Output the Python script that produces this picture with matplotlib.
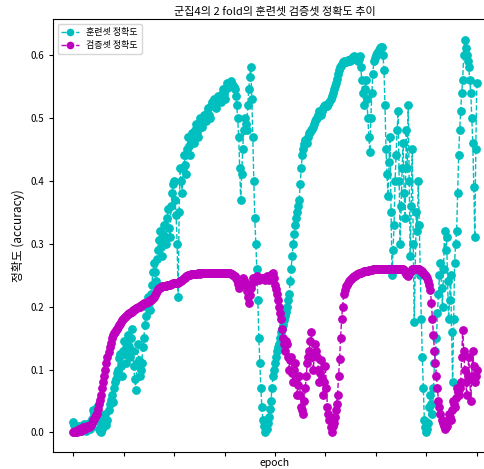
import numpy as np
import matplotlib
matplotlib.use("Agg")
import matplotlib.pyplot as plt

plt.rcParams['font.family'] = ['Noto Sans CJK KR', 'DejaVu Sans']
plt.rcParams['axes.unicode_minus'] = False

# epoch (every 2nd epoch)
epochs = list(range(0, 801, 2))

# 훈련셋 정확도
train_acc = [
    0.016, 0.012, 0.008, 0.004, 0.003, 0.007, 0.010, 0.004, 0.002, 0.009,
    0.006, 0.014, 0.012, 0.003, 0.005, 0.011, 0.015, 0.006, 0.008, 0.022,
    0.035, 0.030, 0.025, 0.038, 0.040, 0.018, 0.005, 0.002, 0.000, 0.006,
    0.010, 0.022, 0.030, 0.012, 0.020, 0.035, 0.045, 0.052, 0.060, 0.048,
    0.070, 0.080, 0.085, 0.095, 0.100, 0.118, 0.125, 0.105, 0.090, 0.130,
    0.145, 0.125, 0.110, 0.140, 0.155, 0.135, 0.120, 0.150, 0.165, 0.130,
    0.105, 0.085, 0.068, 0.110, 0.140, 0.115, 0.090, 0.100, 0.110, 0.135,
    0.150, 0.170, 0.185, 0.200, 0.215, 0.205, 0.195, 0.220, 0.235, 0.255,
    0.270, 0.255, 0.240, 0.275, 0.290, 0.305, 0.320, 0.295, 0.280, 0.315,
    0.330, 0.310, 0.300, 0.340, 0.355, 0.325, 0.310, 0.360, 0.380, 0.395,
    0.400, 0.370, 0.345, 0.300, 0.216, 0.350, 0.420, 0.400, 0.380, 0.420,
    0.440, 0.425, 0.410, 0.450, 0.470, 0.455, 0.440, 0.465, 0.475, 0.470,
    0.460, 0.480, 0.490, 0.478, 0.470, 0.490, 0.500, 0.492, 0.485, 0.498,
    0.505, 0.500, 0.495, 0.508, 0.515, 0.505, 0.500, 0.518, 0.525, 0.520,
    0.530, 0.522, 0.515, 0.528, 0.535, 0.530, 0.525, 0.538, 0.545, 0.538,
    0.530, 0.545, 0.555, 0.550, 0.548, 0.555, 0.558, 0.554, 0.550, 0.548,
    0.545, 0.535, 0.520, 0.500, 0.470, 0.420, 0.370, 0.410, 0.450, 0.480,
    0.500, 0.490, 0.480, 0.520, 0.545, 0.565, 0.580, 0.530, 0.470, 0.400,
    0.340, 0.300, 0.260, 0.210, 0.150, 0.110, 0.070, 0.040, 0.020, 0.010,
    0.000, 0.008, 0.005, 0.015, 0.025, 0.038, 0.050, 0.070, 0.090, 0.100,
    0.110, 0.120, 0.130, 0.135, 0.140, 0.150, 0.160, 0.165, 0.170, 0.178,
    0.185, 0.192, 0.200, 0.210, 0.220, 0.240, 0.260, 0.280, 0.300, 0.315,
    0.330, 0.340, 0.350, 0.360, 0.370, 0.395, 0.420, 0.440, 0.450, 0.458,
    0.465, 0.462, 0.460, 0.470, 0.475, 0.478, 0.480, 0.482, 0.485, 0.490,
    0.495, 0.498, 0.500, 0.505, 0.510, 0.508, 0.505, 0.510, 0.515, 0.518,
    0.520, 0.519, 0.518, 0.522, 0.525, 0.530, 0.535, 0.540, 0.545, 0.550,
    0.555, 0.562, 0.570, 0.575, 0.580, 0.582, 0.585, 0.588, 0.590, 0.589,
    0.588, 0.590, 0.592, 0.591, 0.590, 0.593, 0.595, 0.597, 0.598, 0.596,
    0.595, 0.592, 0.590, 0.594, 0.598, 0.580, 0.560, 0.540, 0.520, 0.545,
    0.560, 0.530, 0.500, 0.470, 0.446, 0.500, 0.540, 0.570, 0.590, 0.595,
    0.600, 0.603, 0.605, 0.608, 0.610, 0.612, 0.613, 0.600, 0.575, 0.520,
    0.450, 0.410, 0.375, 0.430, 0.470, 0.350, 0.250, 0.290, 0.330, 0.400,
    0.440, 0.480, 0.510, 0.400, 0.300, 0.360, 0.420, 0.460, 0.380, 0.340,
    0.480, 0.420, 0.520, 0.400, 0.280, 0.360, 0.450, 0.300, 0.175, 0.260,
    0.350, 0.320, 0.400, 0.330, 0.250, 0.180, 0.120, 0.070, 0.020, 0.008,
    0.000, 0.005, 0.015, 0.040, 0.060, 0.045, 0.030, 0.070, 0.110, 0.130,
    0.150, 0.190, 0.220, 0.250, 0.270, 0.230, 0.200, 0.260, 0.320, 0.290,
    0.310, 0.240, 0.180, 0.210, 0.250, 0.160, 0.080, 0.180, 0.270, 0.300,
    0.320, 0.380, 0.440, 0.480, 0.510, 0.540, 0.560, 0.600, 0.624, 0.610,
    0.600, 0.590, 0.580, 0.560, 0.540, 0.500, 0.460, 0.390, 0.310, 0.450,
    0.555,
]

# 검증셋 정확도
val_acc = [
    0.000, 0.001, 0.002, 0.000, 0.000, 0.003, 0.005, 0.004, 0.003, 0.006,
    0.008, 0.006, 0.005, 0.008, 0.010, 0.009, 0.008, 0.010, 0.012, 0.015,
    0.020, 0.022, 0.025, 0.028, 0.030, 0.038, 0.045, 0.052, 0.060, 0.070,
    0.080, 0.090, 0.100, 0.110, 0.120, 0.128, 0.135, 0.142, 0.150, 0.155,
    0.158, 0.160, 0.162, 0.165, 0.168, 0.170, 0.172, 0.175, 0.178, 0.180,
    0.182, 0.184, 0.185, 0.186, 0.188, 0.189, 0.190, 0.191, 0.192, 0.194,
    0.195, 0.196, 0.197, 0.198, 0.200, 0.200, 0.200, 0.202, 0.203, 0.204,
    0.205, 0.206, 0.206, 0.207, 0.208, 0.209, 0.210, 0.211, 0.212, 0.213,
    0.215, 0.218, 0.222, 0.225, 0.228, 0.229, 0.230, 0.231, 0.232, 0.232,
    0.232, 0.233, 0.233, 0.234, 0.235, 0.235, 0.235, 0.236, 0.236, 0.237,
    0.237, 0.237, 0.238, 0.238, 0.238, 0.239, 0.240, 0.241, 0.242, 0.244,
    0.245, 0.246, 0.248, 0.249, 0.250, 0.250, 0.250, 0.251, 0.252, 0.252,
    0.252, 0.252, 0.252, 0.252, 0.253, 0.253, 0.252, 0.253, 0.253, 0.253,
    0.253, 0.254, 0.254, 0.253, 0.253, 0.254, 0.254, 0.254, 0.254, 0.254,
    0.254, 0.254, 0.254, 0.254, 0.254, 0.254, 0.254, 0.254, 0.254, 0.254,
    0.254, 0.254, 0.253, 0.253, 0.254, 0.253, 0.252, 0.251, 0.250, 0.249,
    0.248, 0.246, 0.243, 0.236, 0.230, 0.236, 0.240, 0.243, 0.245, 0.242,
    0.238, 0.232, 0.225, 0.215, 0.206, 0.218, 0.230, 0.238, 0.245, 0.242,
    0.240, 0.244, 0.248, 0.246, 0.243, 0.245, 0.246, 0.245, 0.245, 0.244,
    0.243, 0.246, 0.248, 0.245, 0.243, 0.247, 0.250, 0.252, 0.254, 0.245,
    0.235, 0.228, 0.220, 0.210, 0.200, 0.190, 0.180, 0.165, 0.150, 0.140,
    0.130, 0.145, 0.140, 0.120, 0.100, 0.115, 0.120, 0.095, 0.080, 0.100,
    0.110, 0.085, 0.060, 0.075, 0.090, 0.060, 0.040, 0.035, 0.030, 0.050,
    0.070, 0.090, 0.110, 0.120, 0.130, 0.145, 0.160, 0.120, 0.100, 0.125,
    0.140, 0.130, 0.120, 0.100, 0.080, 0.095, 0.115, 0.085, 0.060, 0.080,
    0.105, 0.070, 0.040, 0.030, 0.020, 0.008, 0.000, 0.010, 0.015, 0.025,
    0.036, 0.045, 0.060, 0.090, 0.116, 0.150, 0.180, 0.200, 0.220, 0.226,
    0.232, 0.235, 0.238, 0.240, 0.242, 0.244, 0.245, 0.247, 0.248, 0.249,
    0.250, 0.251, 0.252, 0.253, 0.254, 0.254, 0.255, 0.255, 0.256, 0.256,
    0.257, 0.257, 0.257, 0.258, 0.258, 0.258, 0.258, 0.259, 0.259, 0.259,
    0.259, 0.259, 0.259, 0.259, 0.259, 0.259, 0.259, 0.259, 0.259, 0.259,
    0.259, 0.259, 0.259, 0.259, 0.259, 0.259, 0.259, 0.259, 0.259, 0.259,
    0.259, 0.259, 0.259, 0.259, 0.259, 0.259, 0.259, 0.259, 0.258, 0.255,
    0.252, 0.250, 0.248, 0.252, 0.255, 0.257, 0.259, 0.259, 0.259, 0.259,
    0.259, 0.259, 0.259, 0.259, 0.258, 0.257, 0.256, 0.254, 0.252, 0.250,
    0.248, 0.245, 0.240, 0.235, 0.227, 0.205, 0.180, 0.155, 0.130, 0.110,
    0.090, 0.070, 0.050, 0.040, 0.030, 0.020, 0.015, 0.010, 0.005, 0.008,
    0.010, 0.020, 0.030, 0.025, 0.020, 0.035, 0.050, 0.045, 0.040, 0.055,
    0.070, 0.065, 0.060, 0.070, 0.080, 0.120, 0.163, 0.130, 0.100, 0.080,
    0.060, 0.090, 0.120, 0.085, 0.050, 0.090, 0.130, 0.105, 0.080, 0.090,
    0.100,
]

xticks = [0, 100, 200, 300, 400, 500, 600, 700, 800]
yticks = [0.0, 0.1, 0.2, 0.3, 0.4, 0.5, 0.6]

fig = plt.figure(figsize=(4.84, 4.69), dpi=100)
ax = fig.add_axes([53 / 484, 17 / 469, 444 / 484, 432.5 / 469])

ax.plot(epochs, train_acc, 'co--', markersize=5.3, linewidth=1, label='훈련셋 정확도')
ax.plot(epochs, val_acc, 'mo--', markersize=5.3, linewidth=1, label='검증셋 정확도')

ax.set_xlim(-40, 840)
ax.set_ylim(-0.031, 0.656)
ax.set_xticks(xticks)
ax.set_xticklabels([''] * len(xticks))
ax.set_yticks(yticks)
ax.set_yticklabels([f'{t:.1f}' for t in yticks])
ax.tick_params(labelsize=7, length=3, width=0.8)
for s in ax.spines.values():
    s.set_linewidth(0.8)

ax.set_title('군집4의 2 fold의 훈련셋 검증셋 정확도 추이', fontsize=8, pad=3)
ax.set_xlabel('epoch', fontsize=7.5, labelpad=-2)
ax.set_ylabel('정확도 (accuracy)', fontsize=8.5)
ax.legend(loc='upper left', fontsize=6.5, markerscale=0.85)

fig.savefig('out.png', dpi=100)
